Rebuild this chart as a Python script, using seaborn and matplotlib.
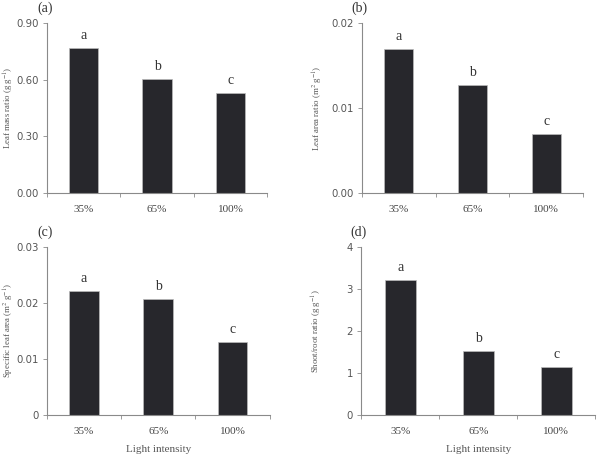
import matplotlib
matplotlib.use("Agg")
import matplotlib.pyplot as plt
import seaborn as sns
import numpy as np

# data
light = ["35%", "65%", "100%"]
leaf_mass_ratio = [0.768, 0.603, 0.529]
leaf_area_ratio = [0.0169, 0.0127, 0.0069]
specific_leaf_area = [0.0221, 0.0207, 0.0130]
shoot_root_ratio = [3.21, 1.52, 1.14]
letters = ["a", "b", "c"]

panels = [
    ("(a)", leaf_mass_ratio, "Leaf mass ratio (g g$^{-1}$)", [0, 0.3, 0.6, 0.9], ["0.00", "0.30", "0.60", "0.90"]),
    ("(b)", leaf_area_ratio, "Leaf area ratio (m$^{2}$ g$^{-1}$)", [0, 0.01, 0.02], ["0.00", "0.01", "0.02"]),
    ("(c)", specific_leaf_area, "Specific leaf area (m$^{2}$ g$^{-1}$)", [0, 0.01, 0.02, 0.03], ["0", "0.01", "0.02", "0.03"]),
    ("(d)", shoot_root_ratio, "Shoot/root ratio (g g$^{-1}$)", [0, 1, 2, 3, 4], ["0", "1", "2", "3", "4"]),
]

positions = [
    [0.0787, 0.578, 0.369, 0.372],
    [0.606, 0.578, 0.371, 0.372],
    [0.0787, 0.092, 0.373, 0.368],
    [0.605, 0.092, 0.392, 0.368],
]
# ylabel anchor is the right edge of the rotated text
label_x = [-0.14, -0.167, -0.138, -0.158]

sns.set_theme(style="white")
plt.rcParams["font.family"] = ["Liberation Serif", "DejaVu Serif"]
plt.rcParams["mathtext.fontset"] = "stix"

fig = plt.figure(figsize=(5.97, 4.57), dpi=100)
bar_color = "#27272c"
axis_color = "#8a8a8a"

for i, (tag, vals, ylab, yt, ytl) in enumerate(panels):
    ax = fig.add_axes(positions[i])
    sns.barplot(x=light, y=vals, color=bar_color, width=0.4, saturation=1,
                edgecolor="#bbbbbb", linewidth=0.5, ax=ax)
    ymax = yt[-1]
    ax.set_ylim(0, ymax)
    ax.set_xlim(-0.5, 2.5)
    ax.set_yticks(yt)
    ax.set_yticklabels(ytl, family="DejaVu Sans", fontsize=7.3, color="#555555")
    ax.set_xticks([-0.5, 0.5, 1.5, 2.5])
    ax.set_xticklabels([])
    for j, lab in enumerate(light):
        ax.text(j, -0.07 * ymax, lab, ha="center", va="top", fontsize=8, color="#444444")
    ax.tick_params(axis="both", direction="out", length=3, width=0.6, color=axis_color,
                   bottom=True, left=True, pad=3)
    for s in ["top", "right"]:
        ax.spines[s].set_visible(False)
    for s in ["left", "bottom"]:
        ax.spines[s].set_color(axis_color)
        ax.spines[s].set_linewidth(0.8)
    ax.set_ylabel(ylab, fontsize=6.3, color="#555555")
    ax.yaxis.set_label_coords(label_x[i], 0.5)
    ax.set_xlabel("")
    for j, v in enumerate(vals):
        ax.text(j, v + 0.035 * ymax, letters[j], ha="center", va="bottom", fontsize=10, color="#333333")
    if i >= 2:
        ax.text(1, -0.18 * ymax, "Light intensity", ha="center", va="top", fontsize=8, color="#555555")
    ax.text(-0.01, 1.088, tag, transform=ax.transAxes, fontsize=10, color="#333333",
            ha="center", va="center")

fig.savefig("out.png", dpi=100, facecolor="white")
